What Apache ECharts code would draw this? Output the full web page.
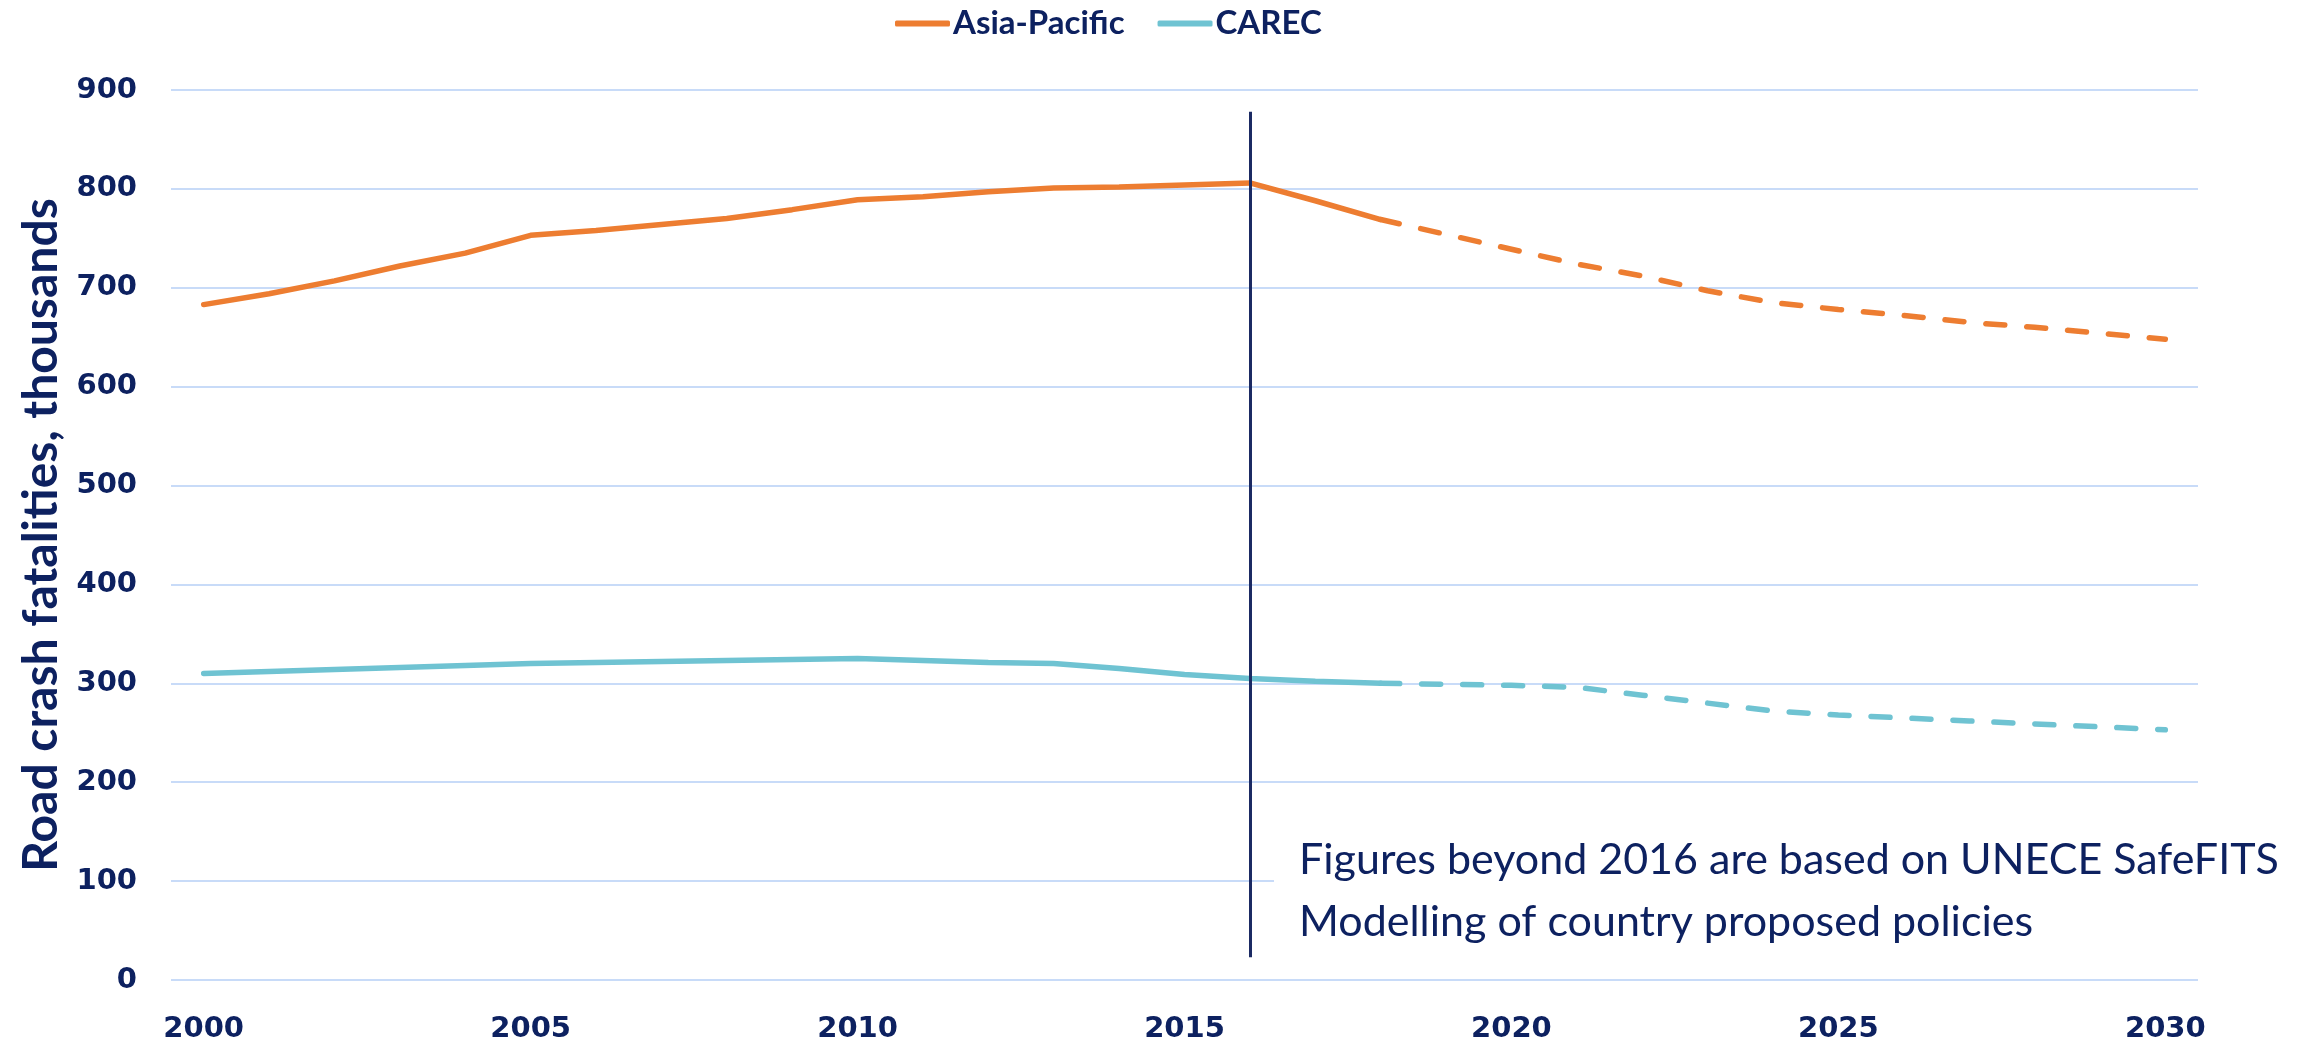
<!DOCTYPE html>
<html>
<head>
<meta charset="utf-8">
<script src="https://cdn.jsdelivr.net/npm/echarts@6/dist/echarts.min.js"></script>
<style>
  html, body { margin: 0; padding: 0; background: #fff; }
  #chart { width: 2310px; height: 1044px; }
</style>
</head>
<body>
<div id="chart"></div>
<script>
// years on the x axis
var years = ['2000','2001','2002','2003','2004','2005','2006','2007','2008','2009',
  '2010','2011','2012','2013','2014','2015','2016','2017','2018','2019',
  '2020','2021','2022','2023','2024','2025','2026','2027','2028','2029','2030'];
// road crash fatalities, thousands
var asiaPacific = [683, 694, 707, 722, 735, 753, 758, 764, 770, 779, 789, 792, 797, 801, 802, 804, 806,
  788, 769, 754, 739, 724, 712, 697, 685, 678, 672, 665, 660, 654, 648];
var carec = [310, 312, 314, 316, 318, 320, 321, 322, 323, 324, 325, 323, 321, 320, 315, 309, 305,
  302, 300, 299, 298, 296, 288, 280, 272, 268, 265, 262, 259, 256, 253];
// modelled values start here (dashed)
var projectionFrom = '2018';
// vertical marker
var markerYear = '2016';
var markerRange = [23, 878];
var noteText = 'Figures beyond 2016 are based on UNECE SafeFITS\nModelling of country proposed policies';

var navy = '#0d2160';
var cut = years.indexOf(projectionFrom);

function solidPart(arr) {
  return arr.map(function (v, i) { return i <= cut ? v : '-'; });
}
function dashedPart(arr) {
  return arr.map(function (v, i) { return i >= cut ? v : '-'; });
}

var chart = echarts.init(document.getElementById('chart'));

var option = {
  animation: false,
  legend: {
    data: ['Asia-Pacific', 'CAREC'],
    icon: 'roundRect',
    left: 890,
    top: 2,
    itemWidth: 55,
    itemHeight: 6,
    itemGap: 33,
    textStyle: { color: navy, fontFamily: 'Lato', fontWeight: 'bold', fontSize: 33, padding: [0, 0, 0, -2] }
  },
  grid: { left: 171, right: 112, top: 90, bottom: 63 },
  xAxis: {
    type: 'category',
    data: years,
    boundaryGap: true,
    axisLine: { show: false },
    axisTick: { show: false },
    axisLabel: {
      interval: 4,
      margin: 35,
      color: navy,
      fontFamily: 'DejaVu Sans',
      fontWeight: 'bold',
      fontSize: 29
    }
  },
  yAxis: {
    type: 'value',
    min: 0,
    max: 900,
    interval: 100,
    name: 'Road crash fatalities, thousands',
    nameLocation: 'middle',
    nameGap: 105,
    nameTextStyle: { color: navy, fontFamily: 'Lato', fontWeight: 'bold', fontSize: 48 },
    axisLine: { show: false },
    axisTick: { show: false },
    axisLabel: {
      margin: 34,
      color: navy,
      fontFamily: 'DejaVu Sans',
      fontWeight: 'bold',
      fontSize: 29
    },
    splitLine: { lineStyle: { color: '#c8dbf8', width: 2 } }
  },
  series: [
    {
      name: 'Asia-Pacific',
      type: 'line',
      data: solidPart(asiaPacific),
      symbol: 'none',
      lineStyle: { color: '#ed7d31', width: 5.5, cap: 'round' },
      itemStyle: { color: '#ed7d31' },
      markLine: {
        silent: true,
        symbol: 'none',
        label: { show: false },
        lineStyle: { color: '#1b2a63', width: 3, type: 'solid' },
        data: [[{ coord: [markerYear, markerRange[0]] }, { coord: [markerYear, markerRange[1]] }]]
      }
    },
    {
      name: 'Asia-Pacific',
      type: 'line',
      data: dashedPart(asiaPacific),
      symbol: 'none',
      lineStyle: { color: '#ed7d31', width: 5.5, type: [19, 22], cap: 'round' },
      itemStyle: { color: '#ed7d31' }
    },
    {
      name: 'CAREC',
      type: 'line',
      data: solidPart(carec),
      symbol: 'none',
      lineStyle: { color: '#6fc3d2', width: 5.5, cap: 'round' },
      itemStyle: { color: '#6fc3d2' }
    },
    {
      name: 'CAREC',
      type: 'line',
      data: dashedPart(carec),
      symbol: 'none',
      lineStyle: { color: '#6fc3d2', width: 5.5, type: [19, 22], cap: 'round' },
      itemStyle: { color: '#6fc3d2' }
    }
  ],
  graphic: [
    {
      type: 'text',
      left: 1274,
      top: 819,
      z: 100,
      style: {
        text: noteText,
        fill: navy,
        font: '43px Lato',
        lineHeight: 62,
        backgroundColor: '#fff',
        padding: [10, 40, 10, 25]
      }
    }
  ]
};

chart.setOption(option);
</script>
</body>
</html>
